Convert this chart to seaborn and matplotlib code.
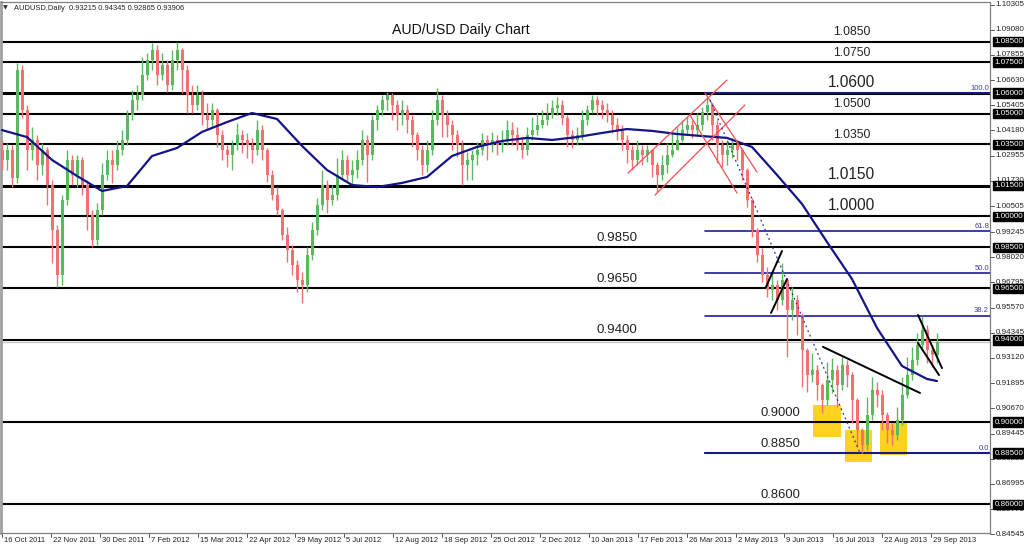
import matplotlib
matplotlib.use("Agg")
import matplotlib.pyplot as plt
import seaborn as sns
import numpy as np
import pandas as pd
from matplotlib.transforms import blended_transform_factory
from matplotlib.patches import Rectangle

# ---------------- data ----------------
first_open = 1.0323
close = [1.0275,1.0323,1.0187,1.0712,1.0518,1.0323,1.0372,1.0250,1.0323,1.0153,
 0.9934,0.9715,1.0080,1.0275,1.0202,1.0275,1.0153,1.0007,0.9886,1.0031,
 1.0202,1.0275,1.0250,1.0323,1.0372,1.0493,1.0566,1.0591,1.0688,1.0761,
 1.0809,1.0688,1.0736,1.0639,1.0761,1.0809,1.0712,1.0591,1.0542,1.0591,
 1.0493,1.0469,1.0518,1.0396,1.0323,1.0299,1.0347,1.0396,1.0372,1.0347,
 1.0323,1.0420,1.0323,1.0202,1.0104,1.0031,0.9910,0.9837,0.9764,0.9691,
 0.9667,0.9813,0.9934,1.0056,1.0153,1.0080,1.0104,1.0202,1.0275,1.0202,
 1.0226,1.0275,1.0372,1.0299,1.0469,1.0518,1.0566,1.0591,1.0542,1.0493,
 1.0518,1.0469,1.0396,1.0323,1.0250,1.0323,1.0469,1.0566,1.0493,1.0445,
 1.0396,1.0347,1.0250,1.0275,1.0299,1.0323,1.0372,1.0347,1.0372,1.0347,
 1.0372,1.0420,1.0396,1.0347,1.0323,1.0396,1.0420,1.0445,1.0469,1.0493,
 1.0528,1.0542,1.0479,1.0396,1.0372,1.0396,1.0469,1.0518,1.0566,1.0542,
 1.0518,1.0493,1.0445,1.0420,1.0372,1.0323,1.0275,1.0323,1.0299,1.0323,
 1.0250,1.0202,1.0250,1.0299,1.0323,1.0372,1.0420,1.0445,1.0420,1.0445,
 1.0508,1.0542,1.0445,1.0347,1.0299,1.0323,1.0347,1.0323,1.0226,1.0080,
 0.9934,0.9813,0.9715,0.9643,0.9667,0.9594,0.9691,0.9545,0.9594,0.9521,
 0.9351,0.9229,0.9254,0.9181,0.9108,0.9205,0.9254,0.9181,0.9278,0.9229,
 0.9108,0.8962,0.8889,0.9035,0.9156,0.9132,0.9035,0.8962,0.8938,0.9010,
 0.9132,0.9229,0.9302,0.9375,0.9448,0.9351,0.9327,0.9391]
high = [1.0372,1.0357,1.0347,1.0746,1.0736,1.0542,1.0435,1.0396,1.0357,1.0337,
 1.0177,0.9958,1.0104,1.0323,1.0299,1.0299,1.0289,1.0177,1.0031,1.0066,
 1.0260,1.0323,1.0323,1.0372,1.0420,1.0518,1.0615,1.0639,1.0775,1.0795,
 1.0843,1.0834,1.0795,1.0761,1.0809,1.0848,1.0819,1.0736,1.0639,1.0639,
 1.0615,1.0552,1.0552,1.0528,1.0420,1.0347,1.0372,1.0455,1.0420,1.0406,
 1.0382,1.0469,1.0445,1.0333,1.0226,1.0143,1.0041,0.9948,0.9861,0.9788,
 0.9730,0.9851,0.9973,1.0090,1.0226,1.0177,1.0153,1.0285,1.0323,1.0299,
 1.0275,1.0323,1.0420,1.0396,1.0493,1.0542,1.0591,1.0605,1.0600,1.0566,
 1.0566,1.0542,1.0493,1.0411,1.0347,1.0372,1.0518,1.0625,1.0591,1.0518,
 1.0469,1.0420,1.0372,1.0313,1.0323,1.0362,1.0406,1.0396,1.0411,1.0396,
 1.0420,1.0469,1.0459,1.0435,1.0386,1.0435,1.0484,1.0503,1.0518,1.0552,
 1.0566,1.0581,1.0566,1.0493,1.0420,1.0435,1.0518,1.0542,1.0591,1.0586,
 1.0566,1.0552,1.0518,1.0479,1.0445,1.0396,1.0347,1.0372,1.0347,1.0347,
 1.0299,1.0265,1.0299,1.0357,1.0406,1.0435,1.0469,1.0484,1.0469,1.0503,
 1.0532,1.0581,1.0552,1.0469,1.0372,1.0372,1.0382,1.0372,1.0333,1.0236,
 1.0090,0.9944,0.9847,0.9754,0.9725,0.9691,0.9774,0.9701,0.9657,0.9618,
 0.9531,0.9361,0.9337,0.9278,0.9191,0.9292,0.9312,0.9278,0.9317,0.9302,
 0.9244,0.9118,0.8972,0.9122,0.9219,0.9195,0.9156,0.9049,0.8996,0.9074,
 0.9219,0.9317,0.9365,0.9433,0.9516,0.9472,0.9375,0.9434]
low = [1.0226,1.0226,1.0143,1.0163,1.0479,1.0226,1.0275,1.0177,1.0202,1.0056,
 0.9774,0.9657,0.9667,1.0056,1.0153,1.0143,1.0104,0.9934,0.9851,0.9861,
 1.0007,1.0177,1.0163,1.0226,1.0299,1.0347,1.0469,1.0518,1.0566,1.0663,
 1.0712,1.0639,1.0663,1.0605,1.0615,1.0712,1.0600,1.0503,1.0503,1.0518,
 1.0445,1.0420,1.0435,1.0337,1.0275,1.0240,1.0226,1.0323,1.0309,1.0285,
 1.0260,1.0299,1.0275,1.0167,1.0080,1.0007,0.9886,0.9778,0.9715,0.9633,
 0.9580,0.9633,0.9788,0.9910,1.0031,1.0017,1.0056,1.0080,1.0177,1.0167,
 1.0153,1.0187,1.0250,1.0167,1.0275,1.0420,1.0493,1.0518,1.0469,1.0420,
 1.0445,1.0406,1.0337,1.0275,1.0202,1.0216,1.0299,1.0445,1.0386,1.0386,
 1.0323,1.0289,1.0153,1.0177,1.0177,1.0250,1.0299,1.0275,1.0313,1.0299,
 1.0313,1.0347,1.0347,1.0323,1.0285,1.0299,1.0372,1.0396,1.0430,1.0445,
 1.0479,1.0493,1.0445,1.0337,1.0333,1.0347,1.0372,1.0445,1.0503,1.0493,
 1.0479,1.0459,1.0406,1.0372,1.0323,1.0260,1.0226,1.0250,1.0250,1.0265,
 1.0192,1.0119,1.0177,1.0211,1.0289,1.0323,1.0362,1.0396,1.0382,1.0396,
 1.0420,1.0469,1.0372,1.0260,1.0240,1.0250,1.0285,1.0275,1.0177,1.0046,
 0.9900,0.9778,0.9681,0.9609,0.9594,0.9545,0.9570,0.9317,0.9497,0.9424,
 0.9171,0.9147,0.9195,0.9108,0.9045,0.9083,0.9142,0.9074,0.9156,0.9171,
 0.8996,0.8879,0.8850,0.8865,0.9010,0.9074,0.8962,0.8899,0.8889,0.8913,
 0.8986,0.9118,0.9205,0.9278,0.9351,0.9288,0.9268,0.9287]

ma_values = [1.0420,1.0386,1.0275,1.0197,1.0124,1.0148,1.0294,1.0333,1.0411,1.0459,
 1.0503,1.0474,1.0343,1.0226,1.0153,1.0143,1.0163,1.0192,1.0294,1.0338,
 1.0367,1.0382,1.0372,1.0386,1.0406,1.0425,1.0416,1.0401,1.0391,1.0382,
 1.0338,1.0202,1.0061,0.9876,0.9696,0.9458,0.9273,0.9210,0.9200]
ma_index = list(range(0, 186, 5)) + [187]

date_labels = ["16 Oct 2011", "22 Nov 2011", "30 Dec 2011", "7 Feb 2012", "15 Mar 2012",
               "22 Apr 2012", "29 May 2012", "5 Jul 2012", "12 Aug 2012", "18 Sep 2012",
               "25 Oct 2012", "2 Dec 2012", "10 Jan 2013", "17 Feb 2013", "26 Mar 2013",
               "2 May 2013", "9 Jun 2013", "16 Jul 2013", "22 Aug 2013", "29 Sep 2013"]
bars_per_label = 9.78

levels = [1.085, 1.075, 1.06, 1.05, 1.035, 1.015, 1.0, 0.985, 0.965, 0.94, 0.90, 0.86]
thick_levels = [1.06, 1.015]
level_texts = ["1.0850", "1.0750", "1.0600", "1.0500", "1.0350", "1.0150", "1.0000",
               "0.9850", "0.9650", "0.9400", "0.9000", "0.8850", "0.8600"]
level_text_values = [1.085, 1.075, 1.06, 1.05, 1.035, 1.015, 1.0, 0.985, 0.965, 0.94, 0.90, 0.885, 0.86]
level_text_x = [166.2, 166.2, 165.2, 166.2, 166.2, 165.2, 165.2, 118.8, 118.8, 118.8, 151.6, 151.6, 151.6]
level_text_size = [8.7, 8.7, 11.2, 8.7, 8.7, 11.2, 11.2, 9.6, 9.6, 9.6, 9.4, 9.4, 9.4]

fib_high, fib_low = 1.06, 0.885
fib_ratios = [0.0, 38.2, 50.0, 61.8, 100.0]
fib_start = 140.6

axis_ticks = [1.10305, 1.09080, 1.07855, 1.06630, 1.05405, 1.04180, 1.02955, 1.01730,
              1.00505, 0.99245, 0.98020, 0.96795, 0.95570, 0.94345, 0.93120, 0.91895,
              0.90670, 0.89445, 0.88220, 0.86995, 0.85770, 0.84545]
boxed_ticks = [1.085, 1.075, 1.06, 1.05, 1.035, 1.015, 1.0, 0.985, 0.965, 0.94, 0.90, 0.885, 0.86]
bid_price = 0.93906

red_lines = [((125.2, 1.0211), (145.0, 1.0663)), ((130.6, 1.0104), (148.6, 1.0542)),
             ((140.6, 1.0600), (151.0, 1.0216)), ((137.6, 1.0493), (147.0, 1.0114))]
black_lines = [((152.8, 0.9657), (156.0, 0.9832)), ((153.8, 0.9531), (157.0, 0.9696)),
               ((164.2, 0.9366), (183.6, 0.9142)), ((183.2, 0.9521), (188.0, 0.9263)),
               ((183.2, 0.9385), (187.4, 0.9229))]
dotted_line = ((141.6, 1.0566), (171.6, 0.8850))
yellow_boxes = [(162.2, 167.8, 0.8928, 0.9083), (168.6, 174.0, 0.8806, 0.8962),
                (175.6, 181.0, 0.8840, 0.8996)]

# ---------------- figure ----------------
sns.set_style("white")
plt.rcParams["font.family"] = ["Liberation Sans", "DejaVu Sans"]

fig = plt.figure(figsize=(10.24, 5.5), dpi=100)
ax = fig.add_axes([1/1024, 17/550, 989/1024, 531/550])
ax.set_xlim(-0.2, 197.6)
ax.set_ylim(0.84612, 1.10427)
ax.set_xticks([])
ax.set_yticks([])
for s in ax.spines.values():
    s.set_color("#808080")
    s.set_linewidth(0.9)
ax.spines["left"].set_linewidth(2)
ax.spines["left"].set_color("#a0a0a0")

df = pd.DataFrame({"close": close, "high": high, "low": low})
df["open"] = [first_open] + close[:-1]
df["idx"] = np.arange(len(df))
df["high"] = df[["high", "open", "close"]].max(axis=1)
df["low"] = df[["low", "open", "close"]].min(axis=1)
up = df["close"] >= df["open"]
col = np.where(up, "#5cb85c", "#f27070")

# yellow boxes (behind)
for x0, x1, y0, y1 in yellow_boxes:
    ax.add_patch(Rectangle((x0, y0), x1 - x0, y1 - y0, facecolor="#ffd21f",
                           edgecolor="none", zorder=1))

# levels
for lv in levels:
    ax.axhline(lv, color="black", lw=2.2 if lv in thick_levels else 1.5, zorder=2)
ax.axhline(bid_price, color="#c4c4c4", lw=0.9, zorder=2)
ax.plot([fib_start, 197.6], [fib_low, fib_low], color="#101050", lw=1.5, zorder=2)

# fibonacci
for r in fib_ratios:
    p = fib_low + r / 100 * (fib_high - fib_low)
    ax.plot([fib_start, 197.6], [p, p], color="#1c1c9a", lw=1.2, zorder=2.5)
    ax.text(0.999, p + 0.0005, f"{r:.1f}", transform=blended_transform_factory(ax.transAxes, ax.transData),
            ha="right", va="bottom", fontsize=5.5, color="#3a3aa8", zorder=6)

# candles
ax.vlines(df["idx"], df["low"], df["high"], colors=col, lw=1.0, zorder=3)
ax.bar(df["idx"], (df["close"] - df["open"]).abs().clip(lower=0.0002),
       bottom=df[["open", "close"]].min(axis=1), width=0.6, color=col, lw=0, zorder=3)

# moving average
sns.lineplot(x=ma_index, y=ma_values, ax=ax, color="#141488", lw=1.6, zorder=4)

# drawings
for (x0, y0), (x1, y1) in red_lines:
    ax.plot([x0, x1], [y0, y1], color="#f05050", lw=0.9, zorder=4)
for (x0, y0), (x1, y1) in black_lines:
    ax.plot([x0, x1], [y0, y1], color="black", lw=1.4, zorder=5)
ax.plot([dotted_line[0][0], dotted_line[1][0]], [dotted_line[0][1], dotted_line[1][1]],
        color="#3030a0", lw=0.9, ls=(0, (1.5, 2.5)), zorder=4)

# level labels
for t, v, xp, fs in zip(level_texts, level_text_values, level_text_x, level_text_size):
    ax.text(xp, v + 0.0017, t, fontsize=fs, color="#222222", ha="left", va="bottom", zorder=6)

# title & header
fig.text(461/1024, 1 - 30/550, "AUD/USD Daily Chart", fontsize=10.2, ha="center", va="center",
         color="#111111")
fig.text(3/1024, 1 - 8/550, "\u25bc", fontsize=4.5, ha="left", va="center", color="#333333",
         family=["DejaVu Sans"])
fig.text(14/1024, 1 - 8/550, "AUDUSD,Daily  0.93215 0.94345 0.92865 0.93906", fontsize=5.4,
         ha="left", va="center", color="#222222")

# right price axis
ytr = blended_transform_factory(ax.transAxes, ax.transData)
for v in axis_ticks:
    ax.plot([1.0, 1.004], [v, v], transform=ytr, color="#555555", lw=0.7, clip_on=False)
    ax.text(1.0055, v, f"{v:.5f}", transform=ytr, fontsize=5.8, ha="left", va="center",
            color="#222222", clip_on=False)
for v in boxed_ticks:
    ax.text(1.0045, v, f"{v:.5f}", transform=ytr, fontsize=5.8, ha="left", va="center",
            color="white", clip_on=False, zorder=10,
            bbox=dict(boxstyle="square,pad=0.15", facecolor="black", edgecolor="black"))

# bottom date axis
xtr = blended_transform_factory(ax.transData, fig.transFigure)
for k, lab in enumerate(date_labels):
    xk = k * bars_per_label
    ax.plot([xk, xk], [1 - 533/550, 1 - 537/550], transform=xtr, color="#555555", lw=0.7,
            clip_on=False)
    ax.text(xk + 0.4, 1 - 541/550, lab, transform=xtr, fontsize=5.5, ha="left", va="center",
            color="#222222", clip_on=False)

fig.savefig("out.png", dpi=100)
